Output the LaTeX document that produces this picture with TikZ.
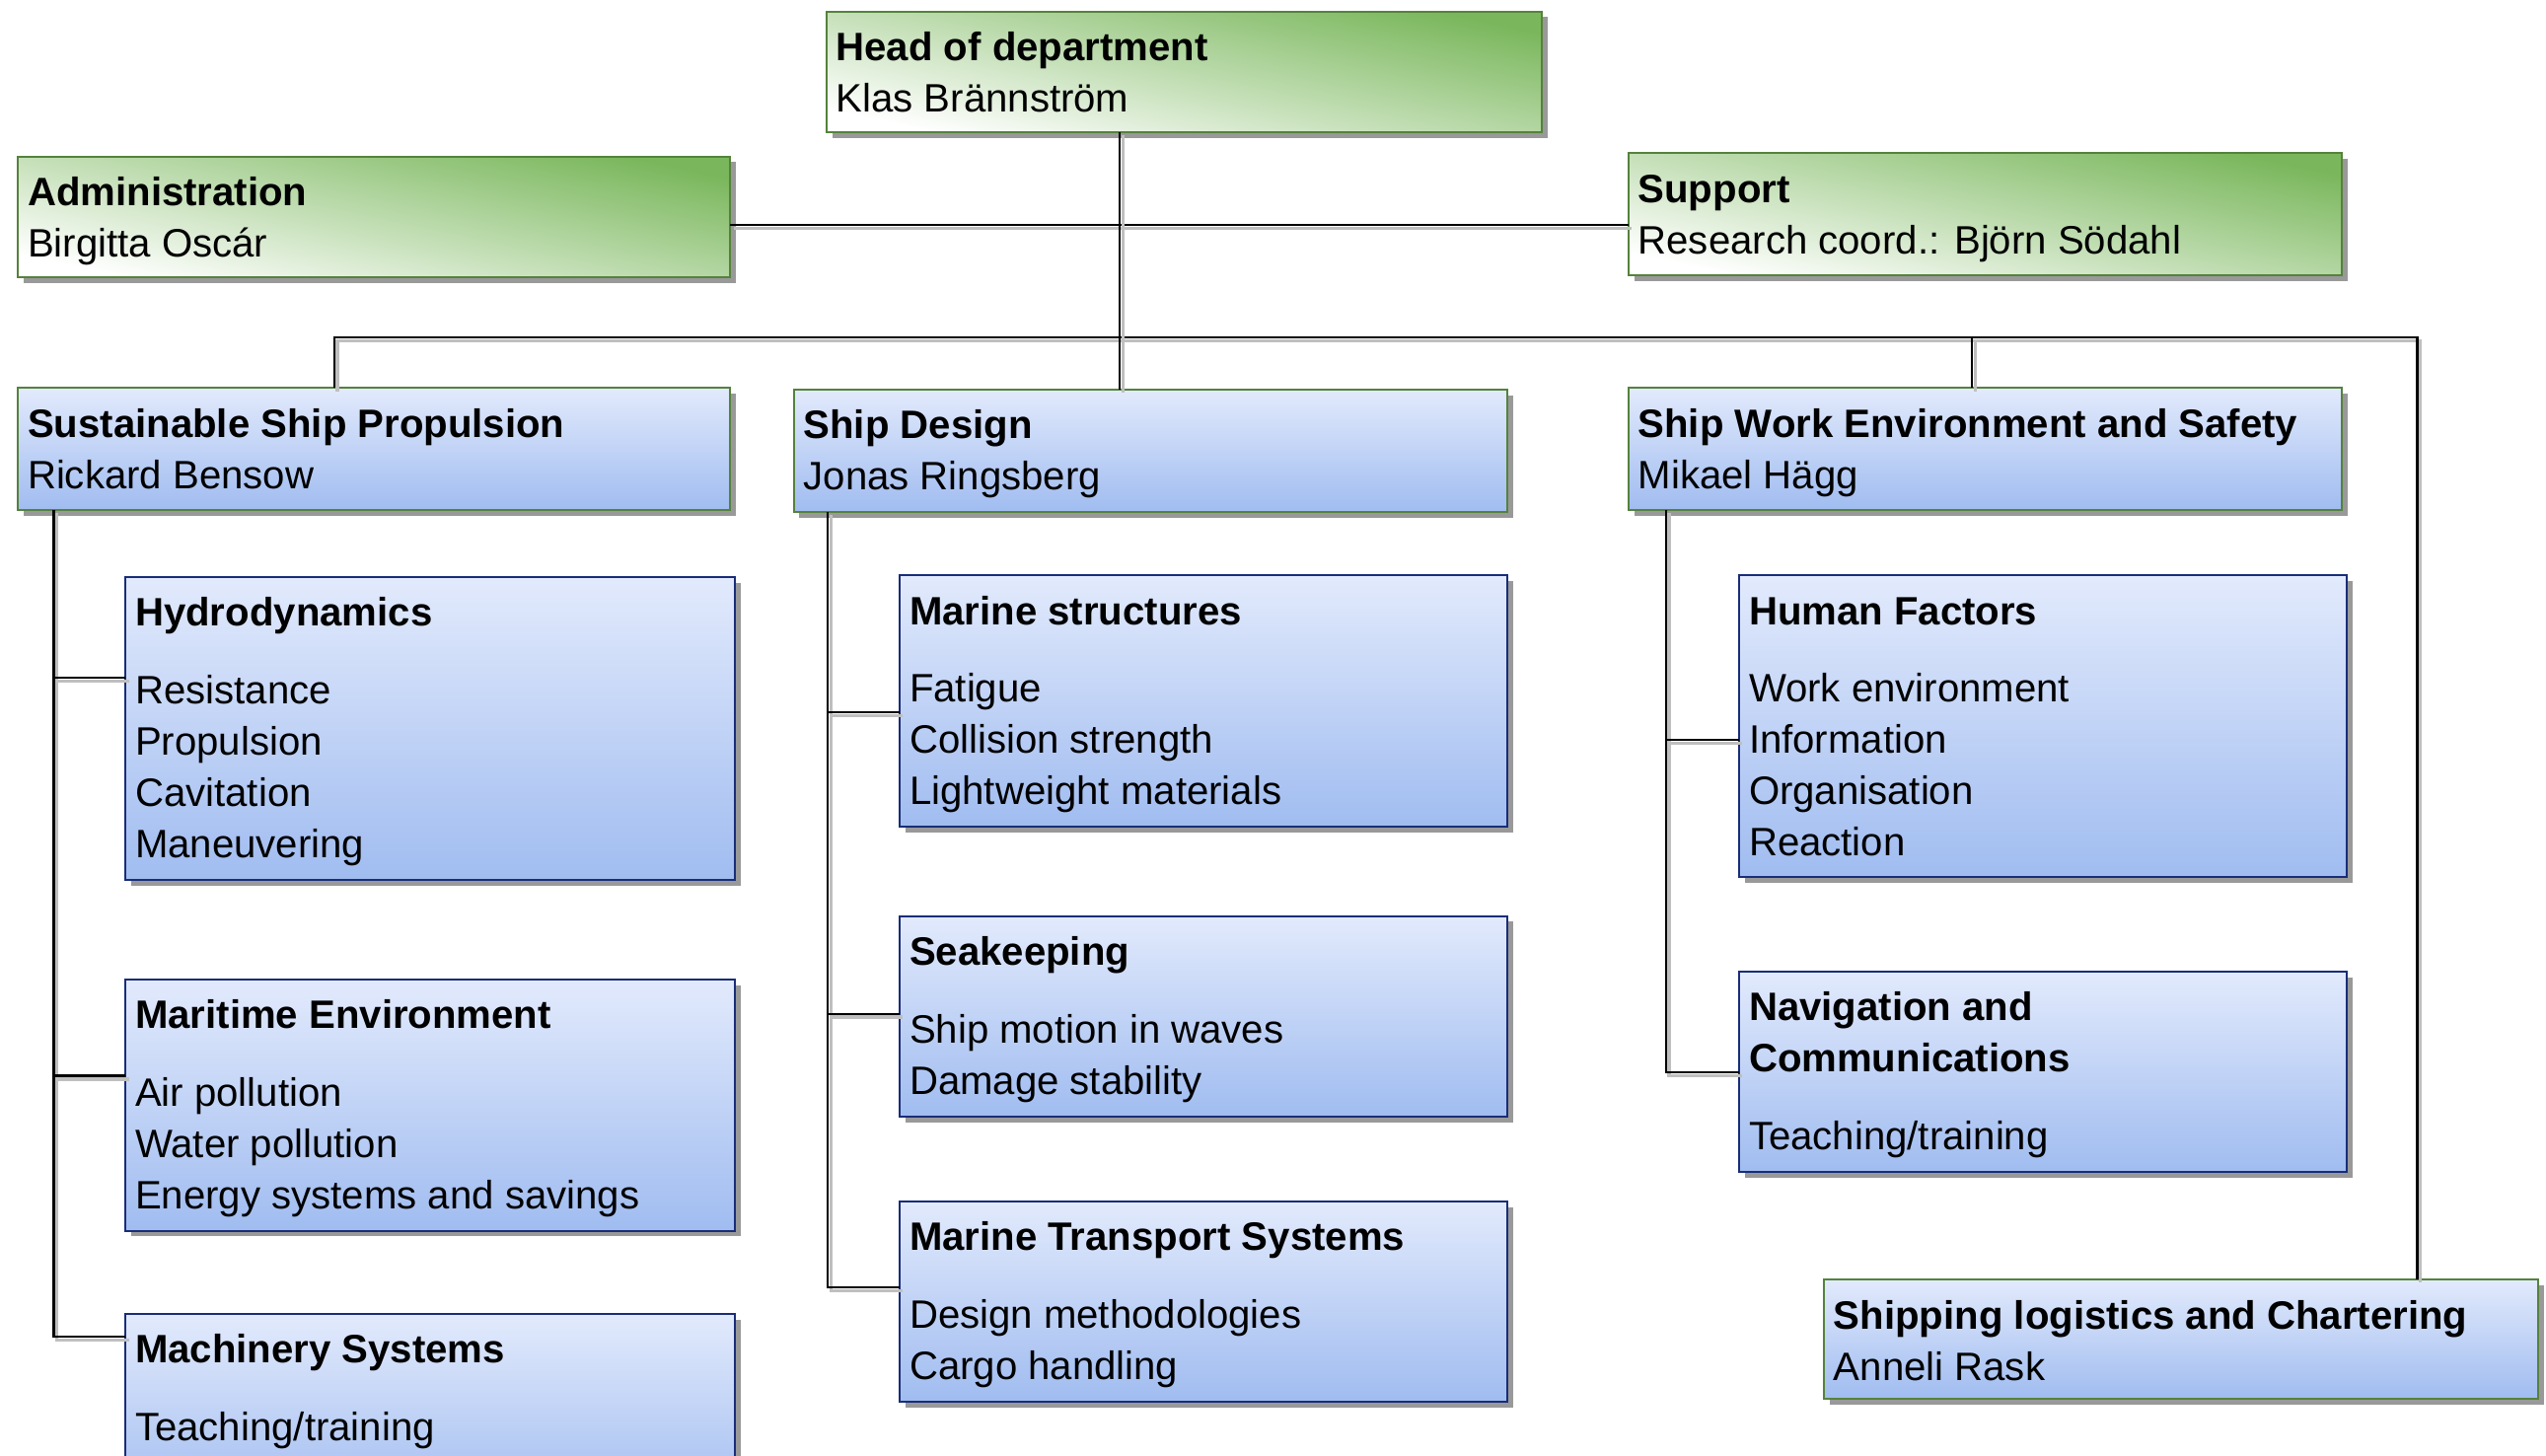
\documentclass[tikz,border=0pt]{standalone}
\usepackage{fontspec}
\setmainfont{Liberation Sans}
\usepackage{tikz}
\usetikzlibrary{shadows}
\definecolor{grn}{RGB}{122,183,92}
\definecolor{grnline}{RGB}{85,130,60}
\definecolor{bluetop}{RGB}{226,234,252}
\definecolor{bluebot}{RGB}{160,188,240}
\definecolor{navy}{RGB}{25,45,120}
\tikzstyle{box}=[anchor=north west,inner xsep=6pt,inner ysep=0pt,outer sep=0pt,line width=1.2pt,drop shadow={shadow xshift=3.5pt,shadow yshift=-3.5pt,fill=black!40,opacity=1}]
\tikzstyle{headbox}=[box,draw=grnline,top color=grn,bottom color=white,shading angle=-12]
\tikzstyle{groupbox}=[box,draw=grnline,top color=bluetop,bottom color=bluebot]
\tikzstyle{teambox}=[box,draw=navy,top color=bluetop,bottom color=bluebot]
\tikzstyle{link}=[draw,line width=1.3pt,preaction={draw=black!25,line width=2pt,transform canvas={xshift=2pt,yshift=-2pt}}]
\newcommand{\cell}[3]{\parbox[c][#2pt][t]{\dimexpr#1pt-12pt\relax}{\fontsize{24.3pt}{31.5pt}\selectfont\vspace*{12.6pt}\rule{0pt}{17.5pt}#3}}
\begin{document}
\begin{tikzpicture}[x=1pt,y=-1pt]
   \useasboundingbox (0,0) rectangle (1562,893);

    % management
    \foreach \pos/ \name / \w / \h / \label in {{(507,7)/head/439/74/{\textbf{Head of department}\\Klas Brännström}},
        {(11,96)/adm/437/74/{\textbf{Administration}\\Birgitta Oscár}},
        {(999,94)/sup/438/75/{\textbf{Support}\\Research coord.: Björn Södahl}}}
        \node[headbox] (\name) at \pos {\cell{\w}{\h}{\label}};

    % divisions
    \foreach \pos/ \name / \w / \h / \label in {{(11,238)/ssp/437/75/{\textbf{Sustainable Ship Propulsion}\\Rickard Bensow}},
        {(487,239)/sd/438/75/{\textbf{Ship Design}\\Jonas Ringsberg}},
        {(999,238)/swes/438/75/{\textbf{Ship Work Environment and Safety}\\Mikael Hägg}},
        {(1119,785)/shiplog/438/73/{\textbf{Shipping logistics and Chartering}\\Anneli Rask}}}
        \node[groupbox] (\name) at \pos {\cell{\w}{\h}{\label}};

    % research groups
    \foreach \pos/ \name / \w / \h / \label in {{(77,354)/hydro/374/186/{\textbf{Hydrodynamics}\\[16pt]Resistance\\Propulsion\\Cavitation\\Maneuvering}},
        {(77,601)/marenv/374/154/{\textbf{Maritime Environment}\\[16pt]Air pollution\\Water pollution\\Energy systems and savings}},
        {(77,806)/mach/374/120/{\textbf{Machinery Systems}\\[16pt]Teaching/training}},
        {(552,353)/mstruct/373/154/{\textbf{Marine structures}\\[16pt]Fatigue\\Collision strength\\Lightweight materials}},
        {(552,562)/seak/373/123/{\textbf{Seakeeping}\\[16pt]Ship motion in waves\\Damage stability}},
        {(552,737)/mts/373/123/{\textbf{Marine Transport Systems}\\[16pt]Design methodologies\\Cargo handling}},
        {(1067,353)/hf/373/185/{\textbf{Human Factors}\\[16pt]Work environment\\Information\\Organisation\\Reaction}},
        {(1067,596)/nav/373/123/{\textbf{Navigation and}\\\textbf{Communications}\\[16pt]Teaching/training}}}
        \node[teambox] (\name) at \pos {\cell{\w}{\h}{\label}};

    % Connect boxes
    \coordinate (hub) at ([xshift=180pt]head.south west);
    \coordinate (sspIn) at ([xshift=194pt]ssp.north west);
    \coordinate (swesIn) at ([xshift=211pt]swes.north west);
    \coordinate (slIn) at ([xshift=364pt]shiplog.north west);
    \coordinate (bus) at ([yshift=31pt]swesIn);
    \coordinate (sspOut) at ([xshift=22pt]ssp.south west);
    \coordinate (sdOut) at ([xshift=21pt]sd.south west);
    \coordinate (swesOut) at ([xshift=23pt]swes.south west);

    \foreach \team/ \dy / \trunk in {mach/14/sspOut,marenv/59/sspOut,hydro/62/sspOut,mts/53/sdOut,seak/60/sdOut,mstruct/84/sdOut,nav/62/swesOut,hf/101/swesOut}
        \draw[link] ([yshift=-\dy pt]\team.north west) -| (\trunk);

    \draw[link] ([yshift=-5pt]adm.east) coordinate (admOut) -- (admOut -| sup.west);
    \draw[link] (sspIn) |- (bus) -| (slIn);
    \draw[link] (swesIn) -- (bus);
    \draw[link] (hub) -- (hub |- sd.north);
       \end{tikzpicture}
\end{document}
